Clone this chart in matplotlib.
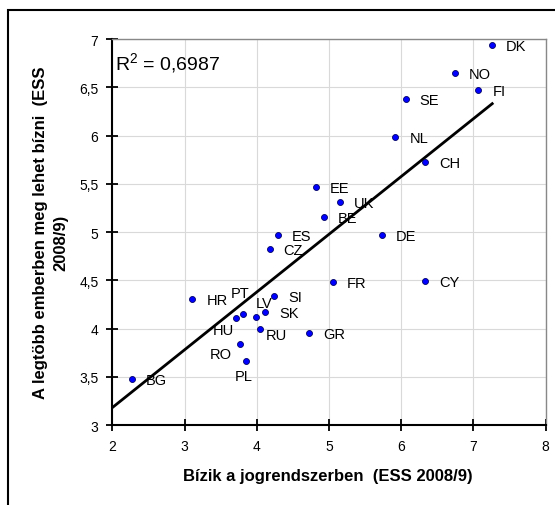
import numpy as np
import matplotlib
matplotlib.use('Agg')
import matplotlib.pyplot as plt
from matplotlib.patches import Rectangle
from matplotlib.ticker import FuncFormatter, MultipleLocator

plt.rcParams['font.family'] = ['Liberation Sans', 'DejaVu Sans']
plt.rcParams['mathtext.fontset'] = 'custom'
plt.rcParams['mathtext.rm'] = 'Liberation Sans'

countries = ['DK', 'NO', 'FI', 'SE', 'NL', 'CH', 'EE', 'UK', 'BE', 'ES', 'CZ', 'DE',
             'FR', 'CY', 'HR', 'SI', 'SK', 'HU', 'PT', 'LV', 'RU', 'GR', 'RO', 'PL', 'BG']
trust_law = [7.26, 6.74, 7.07, 6.06, 5.92, 6.33, 4.82, 5.15, 4.93, 4.29, 4.18, 5.73,
             5.05, 6.33, 3.11, 4.24, 4.12, 3.71, 3.81, 3.99, 4.04, 4.72, 3.77, 3.85, 2.27]
trust_people = [6.94, 6.645, 6.47, 6.376, 5.98, 5.73, 5.47, 5.31, 5.152, 4.966, 4.825, 4.966,
                4.48, 4.497, 4.308, 4.34, 4.167, 4.104, 4.149, 4.118, 3.994, 3.95, 3.84, 3.667, 3.477]
# linear trend as drawn in the original (Excel trendline)
trend_x = [2.0, 7.26]
trend_y = [3.18, 6.33]
r2_text = 'R$^2$ = 0,6987'

# label offsets in pixels (dx, dy up, alignment)
label_pos = {
    'PT': (-12, 21, 'left'),
    'LV': (0, 14, 'left'),
    'HU': (-2, -12, 'right'),
    'RU': (6, -6, 'left'),
    'RO': (-8, -10, 'right'),
    'PL': (-11, -15, 'left'),
}

fig = plt.figure(figsize=(5.55, 5.06), dpi=100)
ax = fig.add_axes([0.2023, 0.1581, 0.7809, 0.7628])

ax.plot(trend_x, trend_y, color='black', lw=2, zorder=3)
ax.plot(trust_law, trust_people, 'o', ms=4.3, mfc='#0000ff', mec='#000066', mew=0.6,
        zorder=4, clip_on=False)

for c, xi, yi in zip(countries, trust_law, trust_people):
    dx, dy, ha = label_pos.get(c, (14, -1, 'left'))
    ax.annotate(c, (xi, yi), xytext=(dx, dy), textcoords='offset pixels',
                ha=ha, va='center', fontsize=10.5, zorder=5)

ax.text(0.007, 0.922, r2_text, transform=ax.transAxes, fontsize=14, va='baseline')

ax.set_xlim(2, 8)
ax.set_ylim(3, 7)
ax.xaxis.set_major_locator(MultipleLocator(1))
ax.yaxis.set_major_locator(MultipleLocator(0.5))
ax.yaxis.set_major_formatter(FuncFormatter(lambda v, p: ('%g' % v).replace('.', ',')))
ax.grid(True, color='#d9d9d9', lw=0.8)
ax.set_axisbelow(True)
ax.tick_params(direction='inout', length=8, width=1.3, labelsize=10, pad=6)
for s in ['left', 'bottom']:
    ax.spines[s].set_linewidth(1.5)
for s in ['top', 'right']:
    ax.spines[s].set_color('#888888')
    ax.spines[s].set_linewidth(1)

fig.text(328 / 555, 1 - 477 / 506, 'Bízik a jogrendszerben  (ESS 2008/9)', ha='center',
         va='center', fontsize=12, fontweight='bold')
fig.text(41 / 555, 1 - 233 / 506, 'A legtöbb emberben meg lehet bízni  (ESS', rotation=90,
         ha='center', va='center', fontsize=12, fontweight='bold')
fig.text(61 / 555, 1 - 243 / 506, '2008/9)', rotation=90,
         ha='center', va='center', fontsize=12, fontweight='bold')

fig.patches.append(Rectangle((7.5 / 555, -0.1), 1.2, (1 - 10.5 / 506) + 0.1,
                             transform=fig.transFigure, fill=False, ec='black', lw=1.5))

fig.savefig('out.png', dpi=100)
